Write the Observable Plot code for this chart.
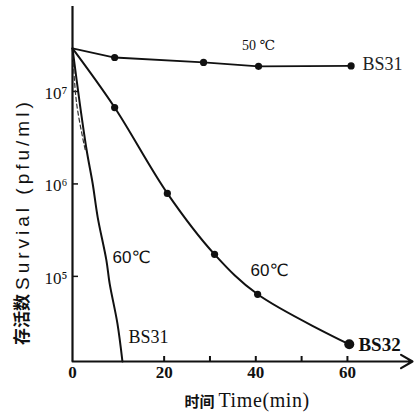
<!DOCTYPE html>
<html><head><meta charset="utf-8">
<script src="https://cdn.jsdelivr.net/npm/d3@7"></script>
<script src="https://cdn.jsdelivr.net/npm/@observablehq/plot@0.6"></script>
<style>body{margin:0;background:#fff}</style>
</head><body><div id="chart"></div>
<script>
// ---- data ----
const bs32Time = [0, 9.2, 20.7, 31, 40.4, 60.4];
const bs32Survival = [2.92e7, 6.7e6, 7.9e5, 1.73e5, 6.4e4, 1.84e4];

const bs31At50Time = [0, 9.2, 28.6, 40.6, 60.8];
const bs31At50Survival = [2.92e7, 2.33e7, 2.06e7, 1.87e7, 1.89e7];

const bs31At60Time = [0, 1.5, 3.1, 4.4, 5.5, 7.4, 8.1, 9.8, 10.9];
const bs31At60Survival = [2.92e7, 8.0e6, 2.3e6, 1.01e6, 4.35e5, 1.49e5, 8.4e4, 3.1e4, 1.2e4];

const faintTime = [0, 0.9, 2.8];
const faintSurvival = [2.92e7, 7.4e6, 2.3e6];

const xTickValues = [20, 30, 40, 50, 60];
const xLabelValues = [0, 20, 40, 60];
const yTickValues = [1e5, 1e6, 1e7];
const yTickLabels = ["10⁵", "10⁶", "10⁷"];

const noteText = ["50 ℃", "BS31", "60℃", "60℃", "BS31", "BS32"];
const noteTime = [40.6, 63.3, 12.9, 43, 12.2, 62.4];
const noteSurvival = [3.14e7, 1.95e7, 1.6e5, 1.16e5, 2.19e4, 1.8e4];

const xTitleCjk = "时间";
const xTitleLatin = "Time(min)";
const yTitleCjk = "存活数";
const yTitleLatin = "Survial (pfu/ml)";

// ---- build tables ----
const toRows = (xs, ys) => xs.map((x, i) => ({x, y: ys[i]}));
const bs32 = toRows(bs32Time, bs32Survival);
const bs31At50 = toRows(bs31At50Time, bs31At50Survival);
const bs31At60 = toRows(bs31At60Time, bs31At60Survival);
const faint = toRows(faintTime, faintSurvival);
const notes = noteText.map((t, i) => ({t, x: noteTime[i], y: noteSurvival[i]}));

const xMax = 74.2, yMin = 1.2e4, yMax = 8.3e7;
const serif = "Liberation Serif, DejaVu Serif, serif";
const sans = "Liberation Sans, DejaVu Sans, sans-serif";
const cjk = "Noto Sans CJK SC, sans-serif";

const chart = Plot.plot({
  width: 418, height: 419,
  marginLeft: 72, marginRight: 6, marginTop: 6, marginBottom: 58,
  x: {domain: [0, xMax], axis: null},
  y: {type: "log", domain: [yMin, yMax], axis: null},
  style: {background: "#fff", color: "#111"},
  marks: [
    // axes
    Plot.ruleX([0], {x: d => d, y1: () => yMin, y2: () => yMax, strokeWidth: 2.2, stroke: "#111"}),
    Plot.arrow([0], {x1: () => 0, x2: () => xMax, y1: () => yMin, y2: () => yMin, strokeWidth: 2.2, headLength: 9, stroke: "#111"}),
    Plot.tickX(xTickValues, {x: d => d, insetTop: 350, strokeWidth: 2}),
    Plot.tickY(yTickValues, {y: d => d, insetRight: 334, strokeWidth: 1.5}),
    Plot.text(xLabelValues, {x: d => d, frameAnchor: "bottom", dy: 16, text: d => String(d),
      fontFamily: serif, fontWeight: "bold", fontSize: 17}),
    Plot.text(yTickValues, {y: d => d, frameAnchor: "left", dx: -5, dy: 2, textAnchor: "end",
      text: (d, i) => yTickLabels[i], fontFamily: serif, fontSize: 17}),
    // titles
    Plot.text([xTitleCjk], {frameAnchor: "bottom", dx: -28, dy: 45, textAnchor: "end", text: d => d,
      fontFamily: cjk, fontWeight: "bold", fontSize: 15}),
    Plot.text([xTitleLatin], {frameAnchor: "bottom", dx: -24, dy: 45, textAnchor: "start", text: d => d,
      fontFamily: serif, fontSize: 20}),
    Plot.text([yTitleCjk], {frameAnchor: "left", dx: -50, dy: 161, textAnchor: "start", rotate: -90, text: d => d,
      fontFamily: cjk, fontWeight: "bold", fontSize: 17}),
    Plot.text([yTitleLatin], {frameAnchor: "left", dx: -50, dy: 106, textAnchor: "start", rotate: -90, text: d => d,
      fontFamily: sans, fontSize: 19}),
    // curves
    Plot.line(faint, {x: "x", y: "y", curve: "catmull-rom", strokeWidth: 1.2, strokeDasharray: "4,3", stroke: "#333"}),
    Plot.line(bs31At60, {x: "x", y: "y", curve: "catmull-rom", strokeWidth: 2, stroke: "#111"}),
    Plot.line(bs32, {x: "x", y: "y", curve: "catmull-rom", strokeWidth: 2, stroke: "#111"}),
    Plot.line(bs31At50, {x: "x", y: "y", strokeWidth: 1.8, stroke: "#111"}),
    Plot.dot(bs32.slice(1, -1), {x: "x", y: "y", r: 3.6, fill: "#111"}),
    Plot.dot(bs32.slice(-1), {x: "x", y: "y", r: 5, fill: "#111"}),
    Plot.dot(bs31At50.slice(1), {x: "x", y: "y", r: 3.6, fill: "#111"}),
    // annotations
    Plot.text(notes.slice(0, 1), {x: "x", y: "y", text: "t", fontFamily: serif, fontSize: 14}),
    Plot.text(notes.slice(1, 2), {x: "x", y: "y", text: "t", textAnchor: "start", fontFamily: serif, fontSize: 18, fill: "#222"}),
    Plot.text(notes.slice(2, 4), {x: "x", y: "y", text: "t", fontFamily: sans, fontSize: 17}),
    Plot.text(notes.slice(4, 5), {x: "x", y: "y", text: "t", textAnchor: "start", fontFamily: serif, fontSize: 18}),
    Plot.text(notes.slice(5, 6), {x: "x", y: "y", text: "t", textAnchor: "start", fontFamily: serif, fontWeight: "bold", fontSize: 19})
  ]
});
document.getElementById("chart").append(chart);
// spread the letters of the vertical title as in the scan
d3.select(chart).selectAll("text").filter(function () { return this.textContent === yTitleLatin; })
  .attr("letter-spacing", "4px");
d3.select(chart).selectAll("text").filter(function () { return this.textContent === xTitleLatin; })
  .attr("letter-spacing", "0.6px");
</script>
</body></html>
